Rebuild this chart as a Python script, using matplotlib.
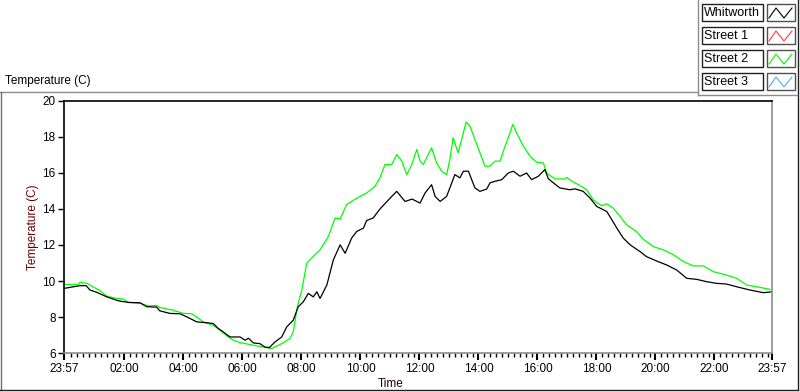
"""LabVIEW-style temperature chart: Whitworth vs street sensors over one day."""

import matplotlib
matplotlib.use("Agg")
import matplotlib.pyplot as plt
from matplotlib.lines import Line2D
from matplotlib.patches import Rectangle

plt.rcParams["font.family"] = ["Liberation Sans", "DejaVu Sans"]

W, H = 800, 392

# time in hours from midnight (23:57 the night before = -0.05)
whitworth_hours = [
    -0.05, 0.49, 0.70, 0.83, 1.06, 1.40, 1.79, 2.13, 2.53, 2.75, 3.09, 3.20,
    3.54, 3.88, 4.11, 4.45, 4.79, 5.01, 5.18, 5.35, 5.58, 5.75, 5.92, 6.09,
    6.20, 6.37, 6.59, 6.76, 6.91, 7.10, 7.33, 7.50, 7.72, 7.89, 8.06, 8.23,
    8.40, 8.52, 8.63, 8.86, 9.08, 9.31, 9.48, 9.70, 9.87, 10.10, 10.21, 10.43,
    10.66, 10.89, 11.06, 11.23, 11.51, 11.75, 12.02, 12.19, 12.41, 12.53,
    12.70, 12.92, 13.03, 13.20, 13.37, 13.49, 13.66, 13.77, 13.88, 14.05,
    14.28, 14.39, 14.56, 14.79, 15.01, 15.18, 15.41, 15.63, 15.80, 16.03,
    16.25, 16.37, 16.54, 16.76, 17.10, 17.27, 17.55, 17.78, 18.01, 18.35,
    18.52, 18.69, 18.91, 19.14, 19.48, 19.70, 20.04, 20.38, 20.72, 21.06,
    21.40, 21.74, 22.07, 22.41, 22.75, 23.20, 23.66, 23.95,
]
whitworth_temp = [
    9.59, 9.74, 9.74, 9.50, 9.37, 9.12, 8.90, 8.81, 8.79, 8.57, 8.55, 8.34,
    8.20, 8.18, 8.01, 7.73, 7.68, 7.64, 7.36, 7.17, 6.89, 6.89, 6.89, 6.71,
    6.82, 6.56, 6.52, 6.33, 6.30, 6.61, 6.89, 7.45, 7.82, 8.57, 8.84, 9.31,
    9.12, 9.40, 9.03, 9.78, 11.17, 12.01, 11.54, 12.38, 12.75, 12.94, 13.36,
    13.50, 14.00, 14.40, 14.70, 14.98, 14.42, 14.55, 14.33, 14.89, 15.35,
    14.70, 14.42, 14.70, 15.17, 15.91, 15.73, 16.10, 16.10, 15.63, 15.17,
    14.98, 15.11, 15.45, 15.54, 15.63, 16.00, 16.10, 15.82, 16.00, 15.63,
    15.82, 16.19, 15.68, 15.45, 15.17, 15.07, 15.12, 14.98, 14.61, 14.14,
    13.86, 13.40, 12.94, 12.38, 12.01, 11.63, 11.35, 11.11, 10.89, 10.61,
    10.15, 10.09, 9.96, 9.87, 9.83, 9.68, 9.50, 9.35, 9.40,
]

street2_hours = [
    -0.05, 0.44, 0.49, 0.72, 0.89, 1.17, 1.40, 1.74, 1.96, 2.13, 2.53, 2.81,
    3.09, 3.20, 3.65, 3.99, 4.28, 4.45, 4.67, 5.01, 5.24, 5.47, 5.69, 5.92,
    6.37, 6.71, 6.99, 7.33, 7.61, 7.72, 7.86, 8.01, 8.18, 8.40, 8.63, 8.91,
    9.14, 9.31, 9.53, 9.70, 9.98, 10.21, 10.49, 10.66, 10.83, 11.06, 11.23,
    11.40, 11.57, 11.74, 11.91, 12.02, 12.13, 12.41, 12.58, 12.75, 12.92,
    13.03, 13.14, 13.31, 13.43, 13.58, 13.71, 13.88, 14.05, 14.22, 14.39,
    14.56, 14.73, 14.90, 15.07, 15.16, 15.29, 15.52, 15.75, 15.97, 16.20,
    16.31, 16.59, 16.93, 17.00, 17.21, 17.44, 17.67, 17.89, 18.17, 18.35,
    18.57, 18.80, 19.02, 19.36, 19.59, 19.93, 20.27, 20.61, 20.95, 21.28,
    21.62, 21.96, 22.41, 22.75, 23.09, 23.43, 23.88,
]
street2_temp = [
    9.81, 9.81, 9.93, 9.87, 9.72, 9.46, 9.16, 9.03, 9.00, 8.81, 8.76, 8.62,
    8.64, 8.53, 8.38, 8.20, 8.18, 8.01, 7.73, 7.54, 7.27, 6.95, 6.71, 6.58,
    6.43, 6.33, 6.25, 6.52, 6.80, 7.17, 8.57, 9.50, 10.99, 11.36, 11.73,
    12.47, 13.50, 13.45, 14.24, 14.42, 14.70, 14.89, 15.26, 15.73, 16.47,
    16.47, 17.03, 16.66, 15.91, 16.47, 17.31, 16.66, 16.47, 17.40, 16.56,
    16.10, 15.91, 16.75, 17.96, 17.12, 17.86, 18.83, 18.60, 17.86, 17.12,
    16.38, 16.38, 16.66, 16.66, 17.49, 18.24, 18.70, 18.24, 17.49, 16.93,
    16.60, 16.56, 16.00, 15.67, 15.67, 15.75, 15.50, 15.31, 15.07, 14.51,
    14.18, 14.29, 14.05, 13.59, 13.12, 12.75, 12.32, 11.91, 11.73, 11.45,
    11.08, 10.84, 10.84, 10.52, 10.33, 10.15, 9.78, 9.68, 9.54,
]

# no readings logged for these two sensors
street1_hours, street1_temp = [], []
street3_hours, street3_temp = [], []

series_names = ["Whitworth", "Street 1", "Street 2", "Street 3"]
series_colors = ["#000000", "#ff3c3c", "#00ff00", "#3cb4ff"]

tick_hours = [-0.05, 2, 4, 6, 8, 10, 12, 14, 16, 18, 20, 22, 23.95]
tick_labels = ["23:57", "02:00", "04:00", "06:00", "08:00", "10:00", "12:00",
               "14:00", "16:00", "18:00", "20:00", "22:00", "23:57"]
y_ticks = [6, 8, 10, 12, 14, 16, 18, 20]


def fx(x):
    return x / W


def fy(y):
    return 1 - y / H


def fig_line(fig, xs, ys, color, lw=1.0):
    fig.add_artist(Line2D([fx(x) for x in xs], [fy(y) for y in ys],
                          transform=fig.transFigure, color=color, lw=lw))


fig = plt.figure(figsize=(W / 100, H / 100), dpi=100)
fig.patch.set_facecolor("white")

# outer graph frame
fig_line(fig, [0, 698], [92, 92], "#8c8c8c")
fig_line(fig, [0.5, 0.5], [92, 390], "#707070")
fig_line(fig, [0, 798], [390, 390], "#202020")
fig_line(fig, [798, 798], [0, 390], "#202020")
fig_line(fig, [698, 698], [0, 95], "#8c8c8c")
fig_line(fig, [698, 797], [95, 95], "#8c8c8c")

fig.text(fx(5), fy(81), "Temperature (C)", fontsize=8.5, ha="left", va="center")

ax = fig.add_axes([fx(64), fy(353), (772 - 64) / W, (353 - 101) / H])
all_series = [
    (whitworth_hours, whitworth_temp),
    (street1_hours, street1_temp),
    (street2_hours, street2_temp),
    (street3_hours, street3_temp),
]
# draw green beneath black
for idx in [2, 3, 1, 0]:
    hrs, temps = all_series[idx]
    ax.plot(hrs, temps, color=series_colors[idx], lw=0.9)

ax.set_xlim(-0.05, 23.95)
ax.set_ylim(6, 20)
ax.set_xticks(tick_hours)
ax.set_xticklabels(tick_labels)
ax.set_xticks([m / 5 for m in range(1, 120) if m % 10 != 0], minor=True)
ax.set_yticks(y_ticks)
ax.tick_params(axis="both", which="major", labelsize=8.5, length=4, width=1,
               pad=2, colors="#000000")
ax.tick_params(axis="x", which="minor", length=3, width=1, color="#000000")
ax.tick_params(axis="x", which="major", length=5, width=1.5)

for side in ["left", "top"]:
    ax.spines[side].set_color("#000000")
for side in ["bottom", "right"]:
    ax.spines[side].set_color("#8c8c8c")
for sp in ax.spines.values():
    sp.set_linewidth(1.2)

fig.text(fx(33), fy(227), "Temperature (C)", rotation=90, fontsize=8.5,
         color="#6a0000", ha="center", va="center")
fig.text(fx(378), fy(384), "Time", fontsize=8.5, color="#1a0000",
         ha="left", va="center")

# LabVIEW-style plot legend
row_tops = [4, 27, 50, 73]
row_h = 17
for name, color, top in zip(series_names, series_colors, row_tops):
    fig.add_artist(Rectangle((fx(702), fy(top + row_h)), 61 / W, row_h / H,
                             transform=fig.transFigure, facecolor="white",
                             edgecolor="#202020", lw=1))
    fig.text(fx(704), fy(top + row_h / 2 + 0.5), name, fontsize=9,
             ha="left", va="center")
    fig.add_artist(Rectangle((fx(767), fy(top + row_h)), 28 / W, row_h / H,
                             transform=fig.transFigure, facecolor="white",
                             edgecolor="#505050", lw=1))
    zx = [769, 776, 784, 792]
    zy = [top + 14, top + 4, top + 14, top + 4]
    fig_line(fig, zx, zy, color, lw=0.8)

fig.savefig("out.png", dpi=100)
